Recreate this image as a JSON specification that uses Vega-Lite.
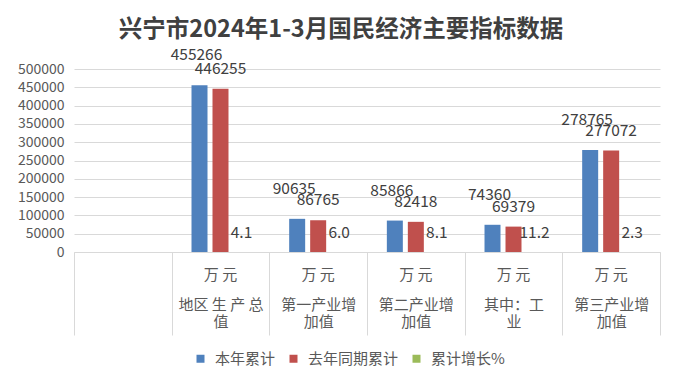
{
  "$schema": "https://vega.github.io/schema/vega-lite/v6.json",
  "width": 586,
  "height": 183,
  "autosize": "none",
  "padding": {"left": 74, "top": 69, "right": 20, "bottom": 134},
  "background": "white",
  "config": {"view": {"stroke": null}, "font": "Noto Sans CJK SC"},
  "title": {
    "text": "兴宁市2024年1-3月国民经济主要指标数据",
    "font": "Noto Sans CJK SC",
    "fontSize": 23.5,
    "fontWeight": "bold",
    "color": "#404040",
    "anchor": "middle",
    "dx": -26,
    "offset": 7
  },
  "data": {
    "values": [
      {"cat": "地区 生 产 总|值", "series": "本年累计", "value": 455266},
      {"cat": "地区 生 产 总|值", "series": "去年同期累计", "value": 446255},
      {"cat": "地区 生 产 总|值", "series": "累计增长%", "value": 4.1},
      {"cat": "第一产业增|加值", "series": "本年累计", "value": 90635},
      {"cat": "第一产业增|加值", "series": "去年同期累计", "value": 86765},
      {"cat": "第一产业增|加值", "series": "累计增长%", "value": 6.0},
      {"cat": "第二产业增|加值", "series": "本年累计", "value": 85866},
      {"cat": "第二产业增|加值", "series": "去年同期累计", "value": 82418},
      {"cat": "第二产业增|加值", "series": "累计增长%", "value": 8.1},
      {"cat": "其中：工|业", "series": "本年累计", "value": 74360},
      {"cat": "其中：工|业", "series": "去年同期累计", "value": 69379},
      {"cat": "其中：工|业", "series": "累计增长%", "value": 11.2},
      {"cat": "第三产业增|加值", "series": "本年累计", "value": 278765},
      {"cat": "第三产业增|加值", "series": "去年同期累计", "value": 277072},
      {"cat": "第三产业增|加值", "series": "累计增长%", "value": 2.3}
    ]
  },
  "encoding": {
    "x": {
      "field": "cat",
      "type": "nominal",
      "sort": null,
      "scale": {
        "domain": ["-", "地区 生 产 总|值", "第一产业增|加值", "第二产业增|加值", "其中：工|业", "第三产业增|加值"],
        "paddingInner": 0,
        "paddingOuter": 0
      },
      "axis": {
        "title": null,
        "tickBand": "extent",
        "tickSize": 83,
        "tickColor": "#d9d9d9",
        "domainColor": "#d9d9d9",
        "grid": false,
        "labelExpr": "(datum.value && datum.value !== '-') ? split(datum.value, '|') : ''",
        "labelAngle": 0,
        "labelFont": "Noto Sans CJK SC",
        "labelFontSize": 15,
        "labelColor": "#595959",
        "labelLineHeight": 17,
        "labelBaseline": "top",
        "labelPadding": -37.5,
        "labelLimit": 0
      }
    },
    "y": {
      "field": "value",
      "type": "quantitative",
      "scale": {"domain": [0, 500000]},
      "axis": {
        "title": null,
        "values": [0, 50000, 100000, 150000, 200000, 250000, 300000, 350000, 400000, 450000, 500000],
        "format": "d",
        "grid": true,
        "gridColor": "#d9d9d9",
        "domain": false,
        "ticks": false,
        "labelPadding": 10,
        "labelFont": "Noto Sans CJK SC",
        "labelFontSize": 14,
        "labelColor": "#595959"
      }
    }
  },
  "layer": [
    {
      "mark": {"type": "bar"},
      "encoding": {
        "xOffset": {
          "field": "series",
          "type": "nominal",
          "sort": ["本年累计", "去年同期累计", "累计增长%"],
          "scale": {"paddingInner": 0.238, "paddingOuter": 0.945}
        },
        "color": {
          "field": "series",
          "type": "nominal",
          "sort": ["本年累计", "去年同期累计", "累计增长%"],
          "scale": {"domain": ["本年累计", "去年同期累计", "累计增长%"], "range": ["#4F81BD", "#C0504D", "#9BBB59"]},
          "legend": {
            "title": null,
            "orient": "none",
            "direction": "horizontal",
            "legendX": 119,
            "legendY": 282,
            "symbolType": "square",
            "symbolSize": 64,
            "symbolStrokeWidth": 0,
            "labelFont": "Noto Sans CJK SC",
            "labelFontSize": 15,
            "labelColor": "#595959",
            "columnPadding": 10,
            "labelOffset": 7
          }
        }
      }
    },
    {
      "transform": [{"filter": "datum.series === '本年累计'"}],
      "mark": {"type": "text", "text": "万 元", "dy": 23, "baseline": "middle", "fontSize": 15, "color": "#595959", "font": "Noto Sans CJK SC"},
      "encoding": {"y": {"datum": 0, "type": "quantitative"}}
    },
    {
      "transform": [{"filter": "datum.series === '本年累计'"}],
      "mark": {"type": "text", "dx": -3, "dy": -30, "baseline": "middle", "fontSize": 15.5, "color": "#404040", "font": "Noto Sans CJK SC"},
      "encoding": {
        "xOffset": {"field": "series", "type": "nominal", "sort": ["本年累计", "去年同期累计", "累计增长%"]},
        "text": {"field": "value", "type": "quantitative", "format": "d"}
      }
    },
    {
      "transform": [{"filter": "datum.series === '去年同期累计'"}],
      "mark": {"type": "text", "dx": 0, "dy": -20, "baseline": "middle", "fontSize": 15.5, "color": "#404040", "font": "Noto Sans CJK SC"},
      "encoding": {
        "xOffset": {"field": "series", "type": "nominal", "sort": ["本年累计", "去年同期累计", "累计增长%"]},
        "text": {"field": "value", "type": "quantitative", "format": "d"}
      }
    },
    {
      "transform": [{"filter": "datum.series === '累计增长%'"}],
      "mark": {"type": "text", "dx": 0, "dy": -19, "baseline": "middle", "fontSize": 15.5, "color": "#404040", "font": "Noto Sans CJK SC"},
      "encoding": {
        "xOffset": {"field": "series", "type": "nominal", "sort": ["本年累计", "去年同期累计", "累计增长%"]},
        "text": {"field": "value", "type": "quantitative", "format": ".1f"}
      }
    }
  ]
}
